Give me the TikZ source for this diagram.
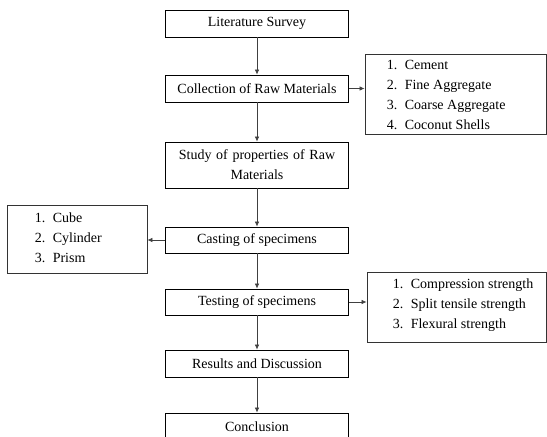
\documentclass[tikz,border=0pt]{standalone}
\usepackage{fontspec}
\setmainfont{Liberation Serif}
\usetikzlibrary{arrows.meta,calc}
\begin{document}
\begin{tikzpicture}[x=1pt,y=-1pt,
  font=\fontsize{14}{20}\selectfont,
  mainbox/.style={draw=black,line width=0.8pt,minimum width=183pt,inner sep=0pt,align=center},
  listbox/.style={draw=black!80,line width=0.8pt,inner sep=0pt},
  listtext/.style={inner sep=0pt,align=left,anchor=west},
  conn/.style={draw=black!75,line width=0.7pt,-{Latex[length=5pt,width=4.5pt]}}]
\clip (0,0) rectangle (547,437);
\useasboundingbox (0,0) rectangle (547,437);
\newcommand{\itm}[2]{\makebox[18pt][l]{#1}#2}
% main chain
\node[mainbox,minimum height=27pt] (lit) at (257,23.5) {Literature Survey};
\node[mainbox,minimum height=27pt] (col) at (257,88.5) {Collection of Raw Materials};
\node[mainbox,minimum height=46pt,text width=175pt] (stu) at (257,165) {Study of properties of Raw\\Materials};
\node[mainbox,minimum height=26pt] (cas) at (257,240) {Casting of specimens};
\node[mainbox,minimum height=26pt] (tes) at (257,302) {Testing of specimens};
\node[mainbox,minimum height=27pt] (res) at (257,363.5) {Results and Discussion};
\node[mainbox,minimum height=27pt] (con) at (257,426.5) {Conclusion};
% side lists
\node[listbox,minimum width=181pt,minimum height=80pt] (mat) at (455.5,94) {};
\node[listtext] (matt) at ($(mat.west)+(22,1)$) {\itm{1.}{Cement}\\\itm{2.}{Fine Aggregate}\\\itm{3.}{Coarse Aggregate}\\\itm{4.}{Coconut Shells}};
\node[listbox,minimum width=140pt,minimum height=68pt] (spe) at (77,239) {};
\node[listtext] (spet) at ($(spe.west)+(28,-1)$) {\itm{1.}{Cube}\\\itm{2.}{Cylinder}\\\itm{3.}{Prism}};
\node[listbox,minimum width=179pt,minimum height=70pt] (str) at (456.5,307) {};
\node[listtext] (strt) at ($(str.west)+(26,-2)$) {\itm{1.}{Compression strength}\\\itm{2.}{Split tensile strength}\\\itm{3.}{Flexural strength}};
% connectors
\draw[conn] (lit) -- (col);
\draw[conn] (col) -- (stu);
\draw[conn] (stu) -- (cas);
\draw[conn] (cas) -- (tes);
\draw[conn] (tes) -- (res);
\draw[conn] (res) -- (con);
\draw[conn] (col.east) -- (col.east -| mat.west);
\draw[conn] (cas.west) -- (cas.west -| spe.east);
\draw[conn] (tes.east) -- (tes.east -| str.west);
\end{tikzpicture}
\end{document}
